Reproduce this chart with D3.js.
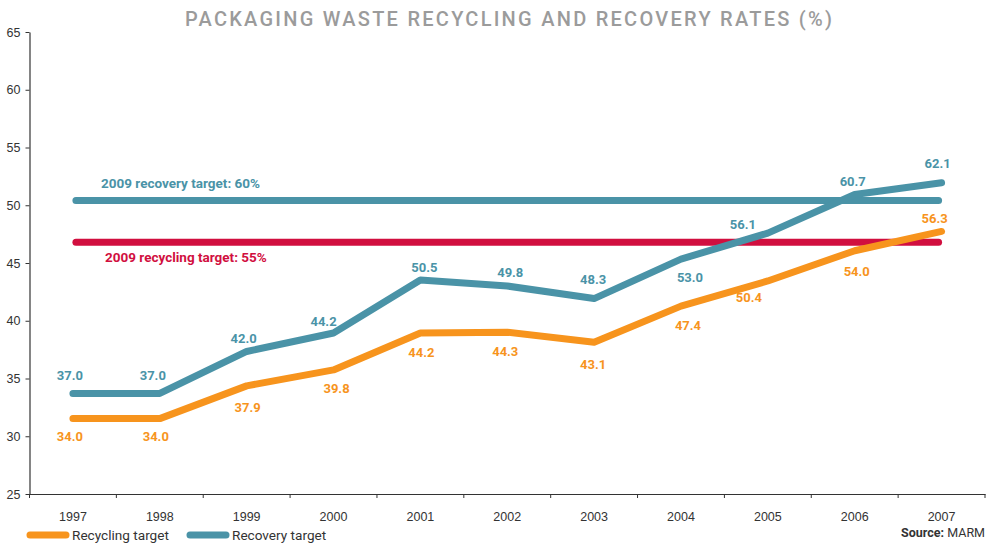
<!DOCTYPE html>
<html>
<head>
<meta charset="utf-8">
<script src="https://cdn.jsdelivr.net/npm/d3@7"></script>
<style>
  body { margin: 0; background: #fff; }
  svg { display: block; font-family: Roboto, 'Noto Sans', sans-serif; }
</style>
</head>
<body>
<div id="chart"></div>
<script>
// Packaging waste recycling and recovery rates (%)
const years = ['1997', '1998', '1999', '2000', '2001', '2002', '2003', '2004', '2005', '2006', '2007'];
const recyclingRates = [34.0, 34.0, 37.9, 39.8, 44.2, 44.3, 43.1, 47.4, 50.4, 54.0, 56.3];
const recoveryRates = [37.0, 37.0, 42.0, 44.2, 50.5, 49.8, 48.3, 53.0, 56.1, 60.7, 62.1];
const targetLabels = ['2009 recovery target: 60%', '2009 recycling target: 55%'];
const targetValues = [60, 55];
const yTicks = [25, 30, 35, 40, 45, 50, 55, 60, 65];

// label nudges [dx, dy] relative to each point (placement only)
const recoveryNudge = [[-3, -18], [-7, -18], [-3, -13], [-10, -12], [4, -13], [3, -14], [-1, -19], [9, 18], [-25, -9], [-2, -13], [-4, -19]];
const recyclingNudge = [[-3, 18], [-4, 18], [1, 22], [3, 19], [1, 19], [-2, 19], [-1, 22], [7, 19], [-19, 16], [2, 21], [-7, -13]];

const W = 992, H = 544;
const margin = { top: 32, right: 7, bottom: 50, left: 29.5 };
const colors = { recycling: '#F7941D', recovery: '#4A93A7', target: '#D10F3F', title: '#9B9B9B', axis: '#333' };

const svg = d3.select('#chart').append('svg')
    .attr('width', W)
    .attr('height', H);

const x = d3.scaleBand()
    .domain(years)
    .range([margin.left, W - margin.right]);

const y = d3.scaleLinear()
    .domain([25, 65])
    .range([H - margin.bottom, margin.top]);

// the original plots the rates on a scale offset from its printed axis
const yRate = d3.scaleLinear()
    .domain([0, 100])
    .range([y(6.82), y(79.49)]);

const cx = d => x(d) + x.bandwidth() / 2;

// title
svg.append('text')
    .attr('x', 508.5)
    .attr('y', 26)
    .attr('text-anchor', 'middle')
    .attr('textLength', 647)
    .attr('lengthAdjust', 'spacing')
    .style('font-size', '20px')
    .style('font-weight', 500)
    .style('fill', colors.title)
    .text('PACKAGING WASTE RECYCLING AND RECOVERY RATES (%)');

// y axis
const yAxis = svg.append('g')
    .attr('transform', `translate(${margin.left},0)`)
    .call(d3.axisLeft(y).tickValues(yTicks).tickSize(4).tickSizeOuter(0).tickPadding(4));
yAxis.select('.domain').attr('stroke', colors.axis).attr('stroke-width', 1.2);
yAxis.selectAll('.tick line').attr('stroke', colors.axis);
yAxis.selectAll('.tick text')
    .attr('x', -9)
    .style('font-size', '12.5px')
    .style('fill', colors.axis);

// x axis, ticks on band edges
const xAxis = svg.append('g')
    .attr('transform', `translate(0,${H - margin.bottom})`)
    .call(d3.axisBottom(x).tickSize(0).tickSizeOuter(0).tickPadding(18));
xAxis.select('.domain').attr('stroke', colors.axis).attr('stroke-width', 1.2);
xAxis.selectAll('.tick text')
    .style('font-size', '12.5px')
    .style('fill', colors.axis);
xAxis.selectAll('.edge-tick')
    .data(years.map(d => x(d)).concat([x.range()[1]]))
    .enter()
    .append('line')
    .attr('class', 'edge-tick')
    .attr('x1', d => d)
    .attr('x2', d => d)
    .attr('y1', 0)
    .attr('y2', 4)
    .attr('stroke', colors.axis);

// target lines
const targets = targetValues.map((v, i) => ({ value: v, label: targetLabels[i] }));
const targetColors = [colors.recovery, colors.target];
svg.selectAll('.target-line')
    .data(targets)
    .enter()
    .append('line')
    .attr('class', 'target-line')
    .attr('x1', cx(years[0]) + 3)
    .attr('x2', cx(years[years.length - 1]) - 3)
    .attr('y1', d => yRate(d.value))
    .attr('y2', d => yRate(d.value))
    .attr('stroke', (d, i) => targetColors[i])
    .attr('stroke-width', 7)
    .attr('stroke-linecap', 'round');

svg.selectAll('.target-label')
    .data(targets)
    .enter()
    .append('text')
    .attr('class', 'target-label')
    .attr('x', (d, i) => i === 0 ? 101 : 105)
    .attr('y', (d, i) => yRate(d.value) + (i === 0 ? -17 : 15))
    .attr('dy', '0.35em')
    .style('font-size', '13.5px')
    .style('font-weight', 'bold')
    .style('fill', (d, i) => targetColors[i])
    .text(d => d.label);

// series lines
const series = [
    { name: 'Recycling target', values: recyclingRates, color: colors.recycling, nudge: recyclingNudge },
    { name: 'Recovery target', values: recoveryRates, color: colors.recovery, nudge: recoveryNudge }
];

const line = d3.line()
    .x((d, i) => cx(years[i]))
    .y(d => yRate(d));

series.forEach(s => {
    svg.append('path')
        .datum(s.values)
        .attr('fill', 'none')
        .attr('stroke', s.color)
        .attr('stroke-width', 7)
        .attr('stroke-linecap', 'round')
        .attr('stroke-linejoin', 'round')
        .attr('d', line);

    svg.selectAll(null)
        .data(s.values)
        .enter()
        .append('text')
        .attr('text-anchor', 'middle')
        .attr('x', (d, i) => cx(years[i]) + s.nudge[i][0])
        .attr('y', (d, i) => yRate(d) + s.nudge[i][1])
        .attr('dy', '0.35em')
        .style('font-size', '13px')
        .style('font-weight', 'bold')
        .style('fill', s.color)
        .text(d => d.toFixed(1));
});

// legend
const legend = svg.append('g').attr('transform', 'translate(30,535)');
const legendX = [0, 160];
series.forEach((s, i) => {
    const row = legend.append('g').attr('transform', `translate(${legendX[i]},0)`);
    row.append('line')
        .attr('x1', 0)
        .attr('x2', 36)
        .attr('stroke', s.color)
        .attr('stroke-width', 7)
        .attr('stroke-linecap', 'round');
    row.append('text')
        .attr('x', 42)
        .attr('dy', '0.35em')
        .style('font-size', '13.6px')
        .style('fill', colors.axis)
        .text(s.name);
});

// source
const source = svg.append('text')
    .attr('x', 985)
    .attr('y', 533)
    .attr('dy', '0.35em')
    .attr('text-anchor', 'end')
    .style('font-size', '12.5px')
    .style('fill', colors.axis);
source.append('tspan').style('font-weight', 'bold').text('Source: ');
source.append('tspan').text('MARM');
</script>
</body>
</html>
